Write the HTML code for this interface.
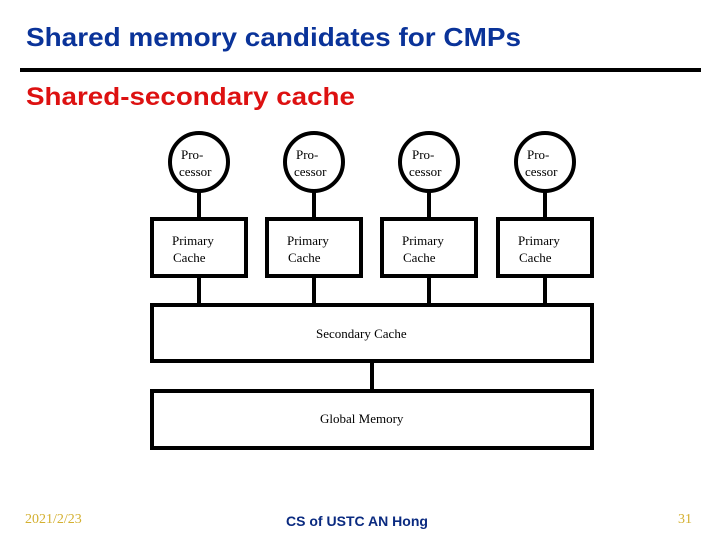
<!DOCTYPE html>
<html><head><meta charset="utf-8"><style>html,body{margin:0;padding:0;background:#fff}svg{display:block}</style></head>
<body>
<svg width="720" height="540" viewBox="0 0 720 540" xmlns="http://www.w3.org/2000/svg">
<text x="26" y="46" font-family="Liberation Sans, sans-serif" font-weight="bold" font-size="26" fill="#0a3399" textLength="495" lengthAdjust="spacingAndGlyphs">Shared memory candidates for CMPs</text>
<rect x="20" y="68" width="681" height="4" fill="#000"/>
<text x="26" y="105" font-family="Liberation Sans, sans-serif" font-weight="bold" font-size="25" fill="#dd1111" textLength="329" lengthAdjust="spacingAndGlyphs">Shared-secondary cache</text>
<g stroke="#000" stroke-width="4" fill="#fff">
<line x1="199" y1="190" x2="199" y2="305"/>
<line x1="314" y1="190" x2="314" y2="305"/>
<line x1="429" y1="190" x2="429" y2="305"/>
<line x1="545" y1="190" x2="545" y2="305"/>
<line x1="372" y1="362" x2="372" y2="391"/>
<circle cx="199" cy="162" r="29"/>
<circle cx="314" cy="162" r="29"/>
<circle cx="429" cy="162" r="29"/>
<circle cx="545" cy="162" r="29"/>
<rect x="152" y="219" width="94" height="57"/>
<rect x="267" y="219" width="94" height="57"/>
<rect x="382" y="219" width="94" height="57"/>
<rect x="498" y="219" width="94" height="57"/>
<rect x="152" y="305" width="440" height="56"/>
<rect x="152" y="391" width="440" height="57"/>
</g>
<g font-family="Liberation Serif, serif" font-size="13" fill="#000">
<text x="181" y="159">Pro-</text><text x="179" y="176">cessor</text>
<text x="296" y="159">Pro-</text><text x="294" y="176">cessor</text>
<text x="412" y="159">Pro-</text><text x="409" y="176">cessor</text>
<text x="527" y="159">Pro-</text><text x="525" y="176">cessor</text>
<text x="172" y="245">Primary</text><text x="173" y="262">Cache</text>
<text x="287" y="245">Primary</text><text x="288" y="262">Cache</text>
<text x="402" y="245">Primary</text><text x="403" y="262">Cache</text>
<text x="518" y="245">Primary</text><text x="519" y="262">Cache</text>
<text x="316" y="338">Secondary Cache</text>
<text x="320" y="423">Global Memory</text>
</g>
<text x="25" y="523" font-family="Liberation Serif, serif" font-size="14" fill="#d4b030">2021/2/23</text>
<text x="286" y="526" font-family="Liberation Sans, sans-serif" font-weight="bold" font-size="14" fill="#0a2a80" textLength="142" lengthAdjust="spacingAndGlyphs">CS of USTC AN Hong</text>
<text x="678" y="523" font-family="Liberation Serif, serif" font-size="14" fill="#d4b030">31</text>
</svg>
</body></html>
